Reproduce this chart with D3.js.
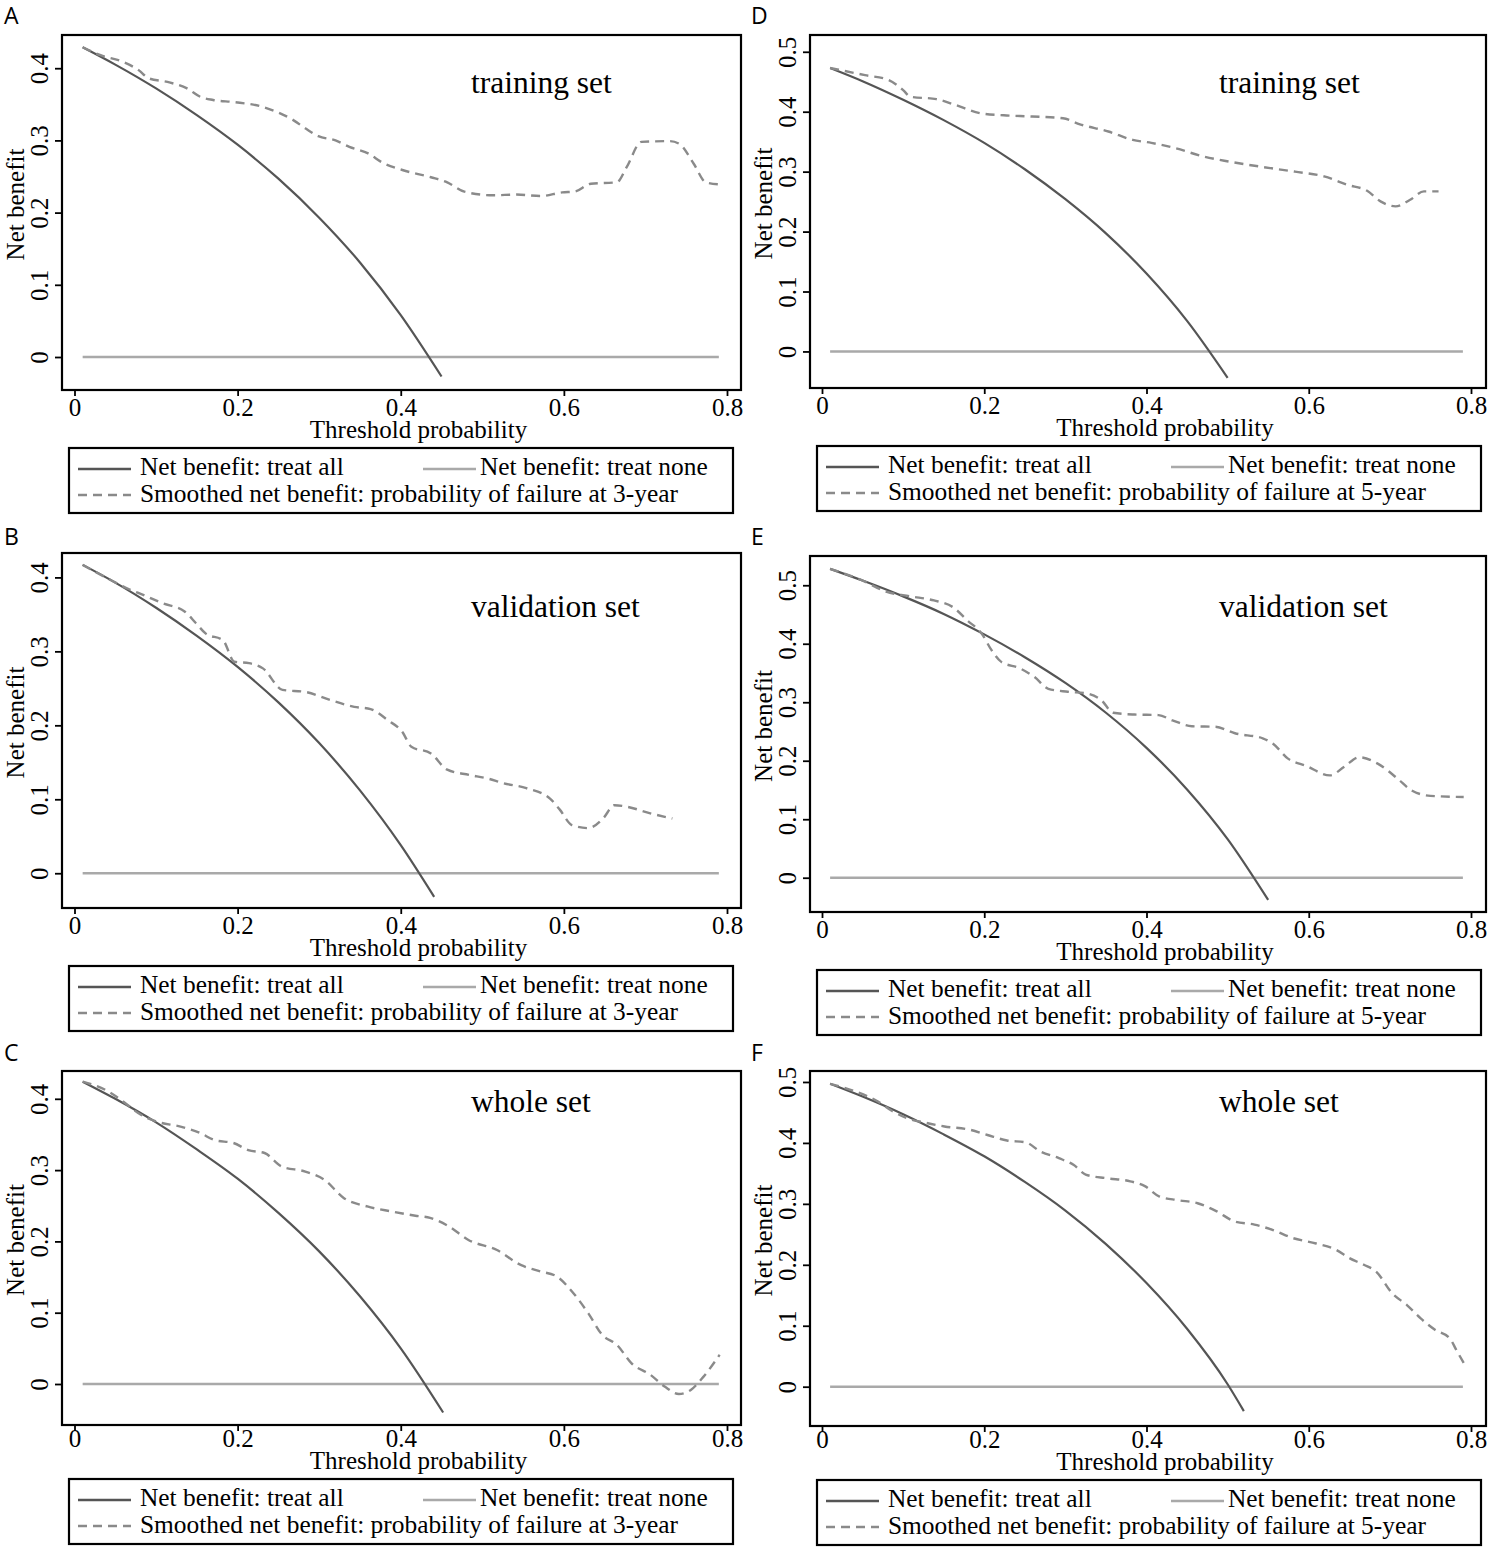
<!DOCTYPE html>
<html>
<head>
<meta charset="utf-8">
<script src="https://cdn.jsdelivr.net/npm/d3@7"></script>
<style>
  body { margin: 0; background: #fff; }
  text { font-family: "Liberation Serif", "Times New Roman", serif; fill: #000; }
  .letter { font-family: "Open Sans", "DejaVu Sans", sans-serif; }
</style>
</head>
<body>
<svg id="fig" width="1494" height="1547"></svg>
<script>
// ---------------------------//
//          DATA              //
// ---------------------------//

const xTicks = [0, 0.2, 0.4, 0.6, 0.8];
const xTickLabels = ["0", "0.2", "0.4", "0.6", "0.8"];
const yTicks3 = [0, 0.1, 0.2, 0.3, 0.4];
const yTicks5 = [0, 0.1, 0.2, 0.3, 0.4, 0.5];

const panelLetters = ["A", "B", "C", "D", "E", "F"];
const setNames = ["training set", "validation set", "whole set",
                  "training set", "validation set", "whole set"];
const years = ["3-year", "3-year", "3-year", "5-year", "5-year", "5-year"];

// treat none: flat at zero
const noneX = [0.01, 0.79];
const noneY = [0, 0];

// treat all
const allX_A = [0.01, 0.05, 0.1, 0.15, 0.2, 0.25, 0.3, 0.35, 0.4, 0.45];
const allY_A = [0.429, 0.405, 0.372, 0.335, 0.294, 0.247, 0.193, 0.131, 0.058, -0.027];
const allX_B = [0.01, 0.05, 0.1, 0.15, 0.2, 0.25, 0.3, 0.35, 0.4, 0.441];
const allY_B = [0.417, 0.393, 0.359, 0.321, 0.279, 0.231, 0.176, 0.112, 0.038, -0.032];
const allX_C = [0.01, 0.05, 0.1, 0.15, 0.2, 0.25, 0.3, 0.35, 0.4, 0.452];
const allY_C = [0.424, 0.400, 0.367, 0.329, 0.288, 0.240, 0.186, 0.123, 0.050, -0.040];
const allX_D = [0.01, 0.05, 0.1, 0.15, 0.2, 0.25, 0.3, 0.35, 0.4, 0.45, 0.5];
const allY_D = [0.473, 0.451, 0.420, 0.386, 0.348, 0.304, 0.254, 0.197, 0.130, 0.051, -0.044];
const allX_E = [0.01, 0.05, 0.1, 0.15, 0.2, 0.25, 0.3, 0.35, 0.4, 0.45, 0.5, 0.55];
const allY_E = [0.528, 0.508, 0.481, 0.451, 0.416, 0.377, 0.333, 0.282, 0.222, 0.151, 0.066, -0.038];
const allX_F = [0.01, 0.05, 0.1, 0.15, 0.2, 0.25, 0.3, 0.35, 0.4, 0.45, 0.5, 0.52];
const allY_F = [0.497, 0.476, 0.447, 0.414, 0.378, 0.336, 0.289, 0.234, 0.170, 0.095, 0.004, -0.04];

// smoothed net benefit of the model
const smX_A = [0.01, 0.032, 0.059, 0.079, 0.091, 0.114, 0.138, 0.155, 0.170, 0.196, 0.229, 0.249, 0.267, 0.284, 0.299, 0.320, 0.337, 0.360, 0.378, 0.402, 0.437, 0.457, 0.478, 0.513, 0.542, 0.572, 0.598, 0.613, 0.633, 0.665, 0.677, 0.695, 0.730, 0.742, 0.759, 0.774, 0.791];
const smY_A = [0.429, 0.418, 0.409, 0.397, 0.386, 0.381, 0.372, 0.360, 0.356, 0.353, 0.347, 0.339, 0.329, 0.316, 0.306, 0.300, 0.291, 0.282, 0.269, 0.259, 0.249, 0.242, 0.229, 0.224, 0.225, 0.223, 0.228, 0.229, 0.240, 0.242, 0.263, 0.298, 0.299, 0.295, 0.268, 0.242, 0.239];

const smX_B = [0.01, 0.04, 0.067, 0.085, 0.108, 0.135, 0.149, 0.161, 0.182, 0.196, 0.214, 0.231, 0.255, 0.284, 0.314, 0.343, 0.363, 0.384, 0.402, 0.413, 0.437, 0.457, 0.484, 0.507, 0.525, 0.554, 0.583, 0.595, 0.610, 0.630, 0.648, 0.662, 0.677, 0.706, 0.733];
const smY_B = [0.417, 0.399, 0.384, 0.376, 0.365, 0.354, 0.338, 0.324, 0.315, 0.286, 0.284, 0.277, 0.248, 0.245, 0.234, 0.225, 0.222, 0.207, 0.191, 0.171, 0.162, 0.140, 0.133, 0.128, 0.122, 0.115, 0.101, 0.086, 0.065, 0.061, 0.074, 0.092, 0.090, 0.081, 0.074];

const smX_C = [0.01, 0.042, 0.060, 0.078, 0.101, 0.130, 0.154, 0.172, 0.195, 0.213, 0.233, 0.254, 0.283, 0.307, 0.330, 0.359, 0.389, 0.418, 0.436, 0.459, 0.483, 0.518, 0.547, 0.571, 0.591, 0.612, 0.630, 0.647, 0.665, 0.683, 0.706, 0.724, 0.741, 0.756, 0.771, 0.791];
const smY_C = [0.424, 0.410, 0.396, 0.380, 0.368, 0.361, 0.352, 0.342, 0.338, 0.328, 0.324, 0.305, 0.298, 0.286, 0.261, 0.249, 0.242, 0.236, 0.233, 0.221, 0.202, 0.188, 0.167, 0.158, 0.151, 0.127, 0.099, 0.069, 0.055, 0.029, 0.013, -0.004, -0.014, -0.008, 0.010, 0.041];

const smX_D = [0.01, 0.053, 0.082, 0.100, 0.109, 0.141, 0.165, 0.197, 0.224, 0.259, 0.297, 0.318, 0.353, 0.383, 0.406, 0.436, 0.471, 0.501, 0.542, 0.583, 0.619, 0.648, 0.672, 0.689, 0.707, 0.725, 0.742, 0.760];
const smY_D = [0.473, 0.461, 0.453, 0.436, 0.425, 0.421, 0.411, 0.397, 0.394, 0.392, 0.389, 0.379, 0.367, 0.353, 0.348, 0.339, 0.325, 0.317, 0.308, 0.300, 0.292, 0.278, 0.268, 0.250, 0.242, 0.253, 0.267, 0.267];

const smX_E = [0.01, 0.05, 0.079, 0.109, 0.138, 0.162, 0.179, 0.197, 0.209, 0.221, 0.244, 0.262, 0.279, 0.303, 0.326, 0.344, 0.359, 0.385, 0.415, 0.432, 0.456, 0.485, 0.509, 0.544, 0.556, 0.574, 0.597, 0.626, 0.644, 0.662, 0.685, 0.709, 0.726, 0.750, 0.791];
const smY_E = [0.528, 0.508, 0.489, 0.481, 0.474, 0.462, 0.440, 0.417, 0.389, 0.369, 0.358, 0.343, 0.323, 0.318, 0.315, 0.304, 0.282, 0.279, 0.278, 0.269, 0.259, 0.258, 0.247, 0.238, 0.229, 0.204, 0.191, 0.175, 0.190, 0.206, 0.195, 0.170, 0.150, 0.140, 0.138];

const smX_F = [0.01, 0.040, 0.069, 0.087, 0.104, 0.128, 0.151, 0.181, 0.204, 0.228, 0.251, 0.269, 0.292, 0.310, 0.325, 0.351, 0.380, 0.398, 0.416, 0.439, 0.463, 0.486, 0.509, 0.533, 0.556, 0.580, 0.609, 0.633, 0.650, 0.668, 0.683, 0.703, 0.721, 0.738, 0.756, 0.774, 0.782, 0.791];
const smY_F = [0.497, 0.485, 0.468, 0.452, 0.441, 0.433, 0.427, 0.422, 0.413, 0.404, 0.401, 0.386, 0.375, 0.364, 0.348, 0.342, 0.337, 0.329, 0.312, 0.306, 0.301, 0.288, 0.271, 0.266, 0.257, 0.244, 0.235, 0.225, 0.211, 0.200, 0.189, 0.153, 0.134, 0.112, 0.093, 0.079, 0.060, 0.039];

const allXs = [allX_A, allX_B, allX_C, allX_D, allX_E, allX_F];
const allYs = [allY_A, allY_B, allY_C, allY_D, allY_E, allY_F];
const smXs = [smX_A, smX_B, smX_C, smX_D, smX_E, smX_F];
const smYs = [smY_A, smY_B, smY_C, smY_D, smY_E, smY_F];
const yTickSets = [yTicks3, yTicks3, yTicks3, yTicks5, yTicks5, yTicks5];
const yDomains = [[-0.0457, 0.446], [-0.047, 0.433], [-0.0575, 0.439],
                  [-0.061, 0.528], [-0.0586, 0.55], [-0.0645, 0.518]];

// ---------------------------//
//          LAYOUT            //
// ---------------------------//

const cols = [
  { x0: 62, x1: 741, zero: 74.5, end: 727, letterX: 4 },
  { x0: 810, x1: 1486, zero: 822, end: 1471, letterX: 751 }
];
const boxY = [[35, 390], [553, 908], [1071, 1425], [35, 388], [556, 912], [1071, 1426]];
const rowShift = [0, 0, -4];          // stuff under the box sits a bit higher on the last row
const letterBase = [24, 545, 1061];
const setBase = [93, 617, 1112];

const C_ALL = "#555555", C_NONE = "#a9a9a9", C_SM = "#8a8a8a";

const svg = d3.select("#fig");

const lineGen = (x, y) => d3.line()
  .x(d => x(d[0]))
  .y(d => y(d[1]))
  .curve(d3.curveMonotoneX);

function drawPanel(i) {
  const col = cols[Math.floor(i / 3)];
  const row = i % 3;
  const [top, bottom] = boxY[i];
  const sh = rowShift[row];

  const x = d3.scaleLinear().domain([0, 0.8]).range([col.zero, col.end]);
  const y = d3.scaleLinear().domain(yDomains[i]).range([bottom, top]);
  const g = svg.append("g");

  // panel letter
  g.append("text").attr("class", "letter")
    .attr("x", col.letterX).attr("y", letterBase[row])
    .style("font-size", "23px")
    .text(panelLetters[i]);

  // y axis ticks, labels turned like the source
  const ya = g.append("g").attr("transform", `translate(${col.x0},0)`)
    .call(d3.axisLeft(y).tickValues(yTickSets[i]).tickSize(7).tickFormat(d3.format("")));
  ya.select(".domain").remove();
  ya.selectAll(".tick line").attr("stroke", "#000").attr("stroke-width", 1.8);
  ya.selectAll(".tick text")
    .attr("transform", "rotate(-90)")
    .attr("x", 0).attr("y", -14).attr("dy", 0)
    .attr("text-anchor", "middle")
    .style("font-family", "Liberation Serif").style("font-size", "25px");

  // x axis ticks
  const xa = g.append("g").attr("transform", `translate(0,${bottom})`)
    .call(d3.axisBottom(x).tickValues(xTicks).tickSize(6)
      .tickFormat((d, k) => xTickLabels[k]));
  xa.select(".domain").remove();
  xa.selectAll(".tick line").attr("stroke", "#000").attr("stroke-width", 1.8);
  xa.selectAll(".tick text")
    .attr("y", 26 + sh).attr("dy", 0)
    .style("font-family", "Liberation Serif").style("font-size", "25px");

  // titles
  g.append("text")
    .attr("x", (col.x0 + col.x1) / 2 + 17).attr("y", bottom + 48 + sh)
    .attr("text-anchor", "middle").style("font-size", "25px")
    .text("Threshold probability");
  g.append("text")
    .attr("transform", `translate(${col.x0 - 38},${(top + bottom) / 2 - 8}) rotate(-90)`)
    .attr("text-anchor", "middle").style("font-size", "25px")
    .text("Net benefit");

  // lines
  g.append("path")
    .attr("d", lineGen(x, y)(d3.zip(noneX, noneY)))
    .attr("fill", "none").attr("stroke", C_NONE).attr("stroke-width", 2.4);
  g.append("path")
    .attr("d", lineGen(x, y)(d3.zip(allXs[i], allYs[i])))
    .attr("fill", "none").attr("stroke", C_ALL).attr("stroke-width", 2.2);
  g.append("path")
    .attr("d", lineGen(x, y)(d3.zip(smXs[i], smYs[i])))
    .attr("fill", "none").attr("stroke", C_SM).attr("stroke-width", 2.4)
    .attr("stroke-dasharray", "9,6");

  // box
  g.append("rect")
    .attr("x", col.x0).attr("y", top)
    .attr("width", col.x1 - col.x0).attr("height", bottom - top)
    .attr("fill", "none").attr("stroke", "#000").attr("stroke-width", 2.2);

  // set name
  g.append("text")
    .attr("x", col.x0 + 409).attr("y", setBase[row])
    .style("font-size", "31.5px")
    .text(setNames[i]);

  // legend
  const lx = col.x0 + 7, ly = bottom + 58 + sh;
  const lg = g.append("g").attr("transform", `translate(${lx},${ly})`);
  lg.append("rect").attr("width", 664).attr("height", 65)
    .attr("fill", "none").attr("stroke", "#000").attr("stroke-width", 2.2);
  const items = [
    { x1: 9, x2: 62, y: 21, c: C_ALL, dash: null, tx: 71, ty: 27, t: "Net benefit: treat all" },
    { x1: 354, x2: 407, y: 21, c: C_NONE, dash: null, tx: 411, ty: 27, t: "Net benefit: treat none" },
    { x1: 9, x2: 62, y: 47, c: C_SM, dash: "9,6", tx: 71, ty: 54,
      t: "Smoothed net benefit: probability of failure at " + years[i] }
  ];
  items.forEach(it => {
    lg.append("line").attr("x1", it.x1).attr("x2", it.x2).attr("y1", it.y).attr("y2", it.y)
      .attr("stroke", it.c).attr("stroke-width", 2.4)
      .attr("stroke-dasharray", it.dash);
    lg.append("text").attr("x", it.tx).attr("y", it.ty)
      .style("font-size", "25.4px").text(it.t);
  });
}

d3.range(6).forEach(drawPanel);
</script>
</body>
</html>
